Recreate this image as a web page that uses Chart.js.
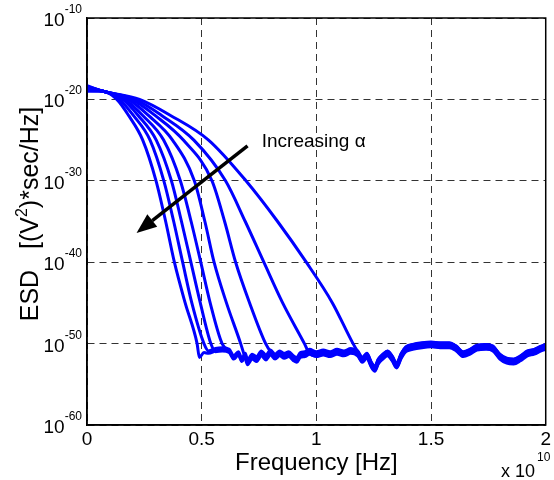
<!DOCTYPE html>
<html>
<head>
<meta charset="utf-8">
<script src="https://cdn.jsdelivr.net/npm/chart.js@4.4.0/dist/chart.umd.min.js"></script>
<style>
html, body { margin: 0; padding: 0; background: #fff; }
#wrap { width: 554px; height: 480px; }
</style>
</head>
<body>
<div id="wrap"><canvas id="esd" width="554" height="480"></canvas></div>
<script>
// frequency in units of 1e10 Hz, ESD given as log10 exponent

// start of every curve (x = 0) and the common knee
const startE = [-18.3, -18.4, -18.5, -18.6, -18.7, -18.8, -18.9, -19.0];
const kneeX = 0.07;
const kneeE = -19.0;

// levels where the roll-off crossings were read
const levelE = [-20, -22, -25, -30, -35, -40, -45, -50];

// crossing frequency of each curve at those levels (small alpha -> large alpha)
const curve1 = [0.229, 0.366, 0.53, 0.693, 0.831, 0.956, 1.07, 1.16];
const curve2 = [0.21, 0.327, 0.466, 0.604, 0.69, 0.771, 0.853, 0.948];
const curve3 = [0.195, 0.298, 0.42, 0.545, 0.60, 0.648, 0.709, 0.779];
const curve4 = [0.18, 0.269, 0.373, 0.468, 0.514, 0.554, 0.608, 0.67];
const curve5 = [0.165, 0.244, 0.334, 0.407, 0.454, 0.496, 0.537, 0.589];
const curve6 = [0.155, 0.224, 0.302, 0.368, 0.412, 0.453, 0.494, 0.54];
const curve7 = [0.14, 0.203, 0.275, 0.335, 0.378, 0.417, 0.457, 0.51];
const curve8 = [0.13, 0.182, 0.243, 0.301, 0.343, 0.381, 0.428, 0.48];

// noise floor after the roll-off
const floorX = [0.49, 0.51, 0.53, 0.56, 0.59, 0.62, 0.64, 0.66, 0.675, 0.69, 0.70, 0.72, 0.74, 0.76, 0.78,
  0.80, 0.82, 0.84, 0.86, 0.88, 0.90, 0.915, 0.93, 0.95, 0.97, 1.00, 1.03, 1.06, 1.09, 1.12, 1.15, 1.18,
  1.20, 1.22, 1.24, 1.255, 1.27, 1.29, 1.31, 1.33, 1.35, 1.37, 1.39, 1.42, 1.46, 1.50, 1.54, 1.58, 1.61,
  1.64, 1.67, 1.70, 1.74, 1.77, 1.80, 1.83, 1.86, 1.89, 1.92, 1.95, 1.98, 2.0];
const floorE = [-51.7, -51.1, -51.2, -50.9, -50.8, -51.0, -51.8, -51.3, -52.1, -51.5, -52.3, -51.6, -51.9, -51.2, -51.7,
  -51.1, -51.6, -51.2, -51.5, -51.3, -51.8, -52.0, -51.4, -51.3, -51.0, -51.3, -51.1, -51.3, -51.0, -51.2, -50.9, -51.2,
  -52.0, -51.5, -52.6, -53.1, -52.2, -51.6, -51.2, -51.8, -52.7, -51.5, -50.7, -50.4, -50.2, -50.1, -50.2, -50.2, -50.6,
  -51.3, -51.0, -50.5, -50.4, -50.6, -51.6, -52.1, -52.2, -51.8, -51.2, -51.0, -50.6, -50.4];
const floorShift = [0.25, -0.2, 0.15, -0.3, 0.1, -0.1, 0.3, 0];

// axes
const xTicks = [0, 0.5, 1, 1.5, 2];
const yExp = [-60, -50, -40, -30, -20, -10];

// annotation (data coords)
const arrowFrom = [0.70, -25.7];
const arrowTo = [0.216, -36.4];
const noteAt = [0.762, -25.2];
const noteText = "Increasing \u03b1";

const FONT = '"Liberation Sans", Arial, Helvetica, sans-serif';

const curves = [curve1, curve2, curve3, curve4, curve5, curve6, curve7, curve8];
const datasets = curves.map((fx, i) => {
  const pts = [{ x: 0, y: Math.pow(10, startE[i]) }, { x: kneeX, y: Math.pow(10, kneeE) }];
  levelE.forEach((e, j) => pts.push({ x: fx[j], y: Math.pow(10, e) }));
  const end = fx[fx.length - 1];
  floorX.forEach((x, j) => {
    if (x > end + 0.005) pts.push({ x: x, y: Math.pow(10, floorE[j] + floorShift[i]) });
  });
  return {
    data: pts,
    borderColor: "#0000ff",
    borderWidth: 3,
    pointRadius: 0,
    fill: false,
    cubicInterpolationMode: "monotone",
  };
});

// extra drawing: box, y tick labels with exponents, y title, x multiplier, arrow
const extras = {
  id: "extras",
  afterDraw(chart) {
    const ctx = chart.ctx;
    const xs = chart.scales.x;
    const ys = chart.scales.y;
    const a = chart.chartArea;
    ctx.save();

    // box
    ctx.strokeStyle = "#000";
    ctx.lineWidth = 1.5;
    ctx.strokeRect(a.left, a.top, a.right - a.left, a.bottom - a.top);

    // y tick labels 10^e
    ctx.fillStyle = "#000";
    ctx.textAlign = "right";
    ctx.textBaseline = "alphabetic";
    yExp.forEach((e) => {
      const py = ys.getPixelForValue(Math.pow(10, e));
      ctx.font = "12px " + FONT;
      const t = String(e);
      ctx.fillText(t, 82, py - 5);
      const w = ctx.measureText(t).width;
      ctx.font = "19px " + FONT;
      ctx.fillText("10", 82 - w, py + 8);
    });

    // y title
    const parts = [["ESD   [(V", false], ["2", true], [")*sec/Hz]", false]];
    ctx.translate(38, 214);
    ctx.rotate(-Math.PI / 2);
    ctx.textAlign = "left";
    let total = 0;
    parts.forEach((p) => {
      ctx.font = (p[1] ? "16px " : "25px ") + FONT;
      total += ctx.measureText(p[0]).width;
    });
    let cx = -total / 2;
    parts.forEach((p) => {
      ctx.font = (p[1] ? "16px " : "25px ") + FONT;
      ctx.fillText(p[0], cx, p[1] ? -11 : 0);
      cx += ctx.measureText(p[0]).width;
    });
    ctx.setTransform(1, 0, 0, 1, 0, 0);

    // x multiplier
    ctx.textAlign = "right";
    ctx.font = "18px " + FONT;
    ctx.fillText("x 10", 535, 477);
    ctx.textAlign = "left";
    ctx.font = "12px " + FONT;
    ctx.fillText("10", 537, 461);

    // arrow
    const x0 = xs.getPixelForValue(arrowFrom[0]);
    const y0 = ys.getPixelForValue(Math.pow(10, arrowFrom[1]));
    const x1 = xs.getPixelForValue(arrowTo[0]);
    const y1 = ys.getPixelForValue(Math.pow(10, arrowTo[1]));
    const ang = Math.atan2(y1 - y0, x1 - x0);
    const headL = 20, headW = 8;
    const bx = x1 - headL * Math.cos(ang);
    const by = y1 - headL * Math.sin(ang);
    ctx.strokeStyle = "#000";
    ctx.lineWidth = 3.5;
    ctx.beginPath();
    ctx.moveTo(x0, y0);
    ctx.lineTo(bx, by);
    ctx.stroke();
    ctx.beginPath();
    ctx.moveTo(x1, y1);
    ctx.lineTo(bx + headW * Math.sin(ang), by - headW * Math.cos(ang));
    ctx.lineTo(bx - headW * Math.sin(ang), by + headW * Math.cos(ang));
    ctx.closePath();
    ctx.fillStyle = "#000";
    ctx.fill();

    // note
    ctx.font = "19px " + FONT;
    ctx.textAlign = "left";
    ctx.textBaseline = "middle";
    ctx.fillText(noteText, xs.getPixelForValue(noteAt[0]), ys.getPixelForValue(Math.pow(10, noteAt[1])));
    ctx.restore();
  },
};

new Chart(document.getElementById("esd").getContext("2d"), {
  type: "line",
  data: { datasets: datasets },
  options: {
    responsive: false,
    animation: false,
    devicePixelRatio: 1,
    layout: { padding: { top: 18, right: 5, left: 0, bottom: 0 } },
    plugins: { legend: { display: false }, tooltip: { enabled: false } },
    scales: {
      x: {
        type: "linear",
        min: 0,
        max: 2,
        afterBuildTicks: (s) => { s.ticks = xTicks.map((v) => ({ value: v })); },
        afterFit: (s) => { s.height = 55; },
        ticks: {
          color: "#000",
          font: { size: 19, family: FONT },
          padding: 3,
          maxRotation: 0,
          callback: (v) => String(v),
        },
        grid: { color: "#333", lineWidth: 1, drawTicks: false },
        border: { color: "#000", width: 1.5, dash: [7, 5] },
        title: {
          display: true,
          text: "Frequency [Hz]",
          color: "#000",
          font: { size: 24, family: FONT },
          padding: { top: 0, bottom: 2 },
        },
      },
      y: {
        type: "logarithmic",
        min: 1e-60,
        max: 1e-10,
        afterBuildTicks: (s) => { s.ticks = yExp.map((e) => ({ value: Math.pow(10, e) })); },
        afterFit: (s) => { s.width = 87; },
        ticks: { display: false },
        grid: { color: "#333", lineWidth: 1, drawTicks: false },
        border: { color: "#000", width: 1.5, dash: [7, 5] },
      },
    },
  },
  plugins: [extras],
});
</script>
</body>
</html>
